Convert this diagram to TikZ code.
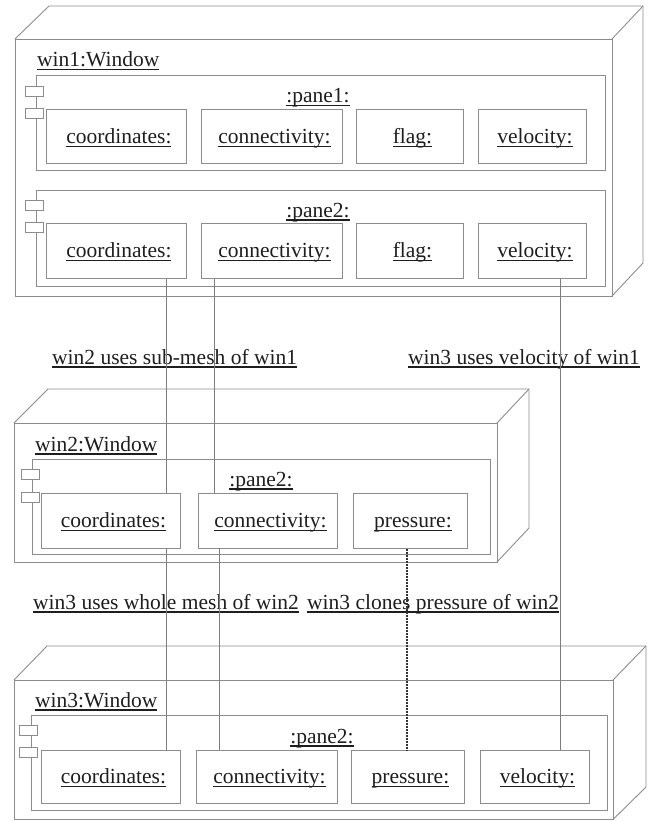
\documentclass[tikz,border=0pt]{standalone}
\usepackage{fontspec}
\setmainfont{Liberation Serif}
\definecolor{boxc}{RGB}{140,140,140}
\definecolor{linec}{RGB}{125,125,125}
\definecolor{txtc}{RGB}{30,30,30}
\newcommand\ulx[1]{\setbox0\hbox{#1}\rlap{\rule[-3.5pt]{\wd0}{1.1pt}}\box0}
\newcommand\fsz{\fontsize{21.5}{24}\selectfont}
\newcommand\plbl[1]{\hspace*{5pt}\ulx{#1}}
\begin{document}
\begin{tikzpicture}[x=1pt,y=-1pt,
  frame/.style={draw=boxc,line width=0.9pt},
  pane/.style={draw=boxc,line width=0.9pt,rectangle,inner sep=0pt,anchor=north west},
  part/.style={draw=boxc,line width=0.9pt,rectangle,inner sep=0pt,anchor=north west,text=txtc,font=\fsz,text height=14pt,text depth=0pt},
  icon/.style={draw=boxc,line width=0.9pt,fill=white,rectangle,inner sep=0pt,minimum width=18pt,minimum height=10pt},
  lbl/.style={text=txtc,font=\fsz,inner sep=0pt},
  link/.style={draw=linec,line width=0.7pt},
  clone/.style={draw=black!80,line width=1.1pt,dash pattern=on 2pt off 1pt},
]
\useasboundingbox (0,0) rectangle (651,821);

% ---------- win1 ----------
\draw[frame] (15,39) rectangle (612,296);
\draw[frame] (15,39) -- (49,6) -- (643,6) -- (643,263) -- (612,296);
\draw[frame] (612,39) -- (643,6);
\node[lbl,anchor=base west] (t1) at (37,67) {\ulx{win1:Window}};

\node[pane,minimum width=569pt,minimum height=95pt] (w1p1) at (36,75) {};
\node[lbl,anchor=base] (w1p1l) at (318,103) {\ulx{:pane1:}};
\node[icon] (w1p1i1) at (34,91) {};
\node[icon] (w1p1i2) at (34,113) {};
\node[part,minimum width=140pt,minimum height=54pt] (w1a1) at (46,109) {\plbl{coordinates:}};
\node[part,minimum width=141pt,minimum height=54pt] (w1a2) at (201,109) {\plbl{connectivity:}};
\node[part,minimum width=107pt,minimum height=54pt] (w1a3) at (356,109) {\plbl{flag:}};
\node[part,minimum width=108pt,minimum height=54pt] (w1a4) at (478,109) {\plbl{velocity:}};

\node[pane,minimum width=569pt,minimum height=96pt] (w1p2) at (36,190) {};
\node[lbl,anchor=base] (w1p2l) at (318,217) {\ulx{:pane2:}};
\node[icon] (w1p2i1) at (34,205) {};
\node[icon] (w1p2i2) at (34,227) {};
\node[part,minimum width=140pt,minimum height=55pt] (w1b1) at (46,223) {\plbl{coordinates:}};
\node[part,minimum width=141pt,minimum height=55pt] (w1b2) at (201,223) {\plbl{connectivity:}};
\node[part,minimum width=107pt,minimum height=55pt] (w1b3) at (356,223) {\plbl{flag:}};
\node[part,minimum width=108pt,minimum height=55pt] (w1b4) at (478,223) {\plbl{velocity:}};

\node[lbl,anchor=base west] (n1) at (52,364) {\ulx{win2 uses sub-mesh of win1}};
\node[lbl,anchor=base west] (n2) at (408,364) {\ulx{win3 uses velocity of win1}};

% ---------- win2 ----------
\draw[frame] (14,423) rectangle (497,562);
\draw[frame] (14,423) -- (48,389) -- (529,389) -- (529,528) -- (497,562);
\draw[frame] (497,423) -- (529,389);
\node[lbl,anchor=base west] (t2) at (35,451) {\ulx{win2:Window}};

\node[pane,minimum width=458pt,minimum height=95pt] (w2p) at (32,459) {};
\node[lbl,anchor=base] (w2pl) at (261,486) {\ulx{:pane2:}};
\node[icon] (w2i1) at (30.5,474.5) {};
\node[icon] (w2i2) at (30.5,497) {};
\node[part,minimum width=139pt,minimum height=55pt] (w2a1) at (41,493) {\plbl{coordinates:}};
\node[part,minimum width=139pt,minimum height=55pt] (w2a2) at (198,493) {\plbl{connectivity:}};
\node[part,minimum width=114pt,minimum height=55pt] (w2a3) at (353,493) {\plbl{pressure:}};

\node[lbl,anchor=base west] (n3) at (33,609) {\ulx{win3 uses whole mesh of win2}};
\node[lbl,anchor=base west] (n4) at (307,609) {\ulx{win3 clones pressure of win2}};

% ---------- win3 ----------
\draw[frame] (14,680) rectangle (613,819.5);
\draw[frame] (14,680) -- (47,646) -- (646,646) -- (646,787) -- (613,819.5);
\draw[frame] (613,680) -- (646,646);
\node[lbl,anchor=base west] (t3) at (35,707) {\ulx{win3:Window}};

\node[pane,minimum width=576pt,minimum height=95pt] (w3p) at (31,715) {};
\node[lbl,anchor=base] (w3pl) at (322,743) {\ulx{:pane2:}};
\node[icon] (w3i1) at (28.5,730) {};
\node[icon] (w3i2) at (28.5,752) {};
\node[part,minimum width=139pt,minimum height=53pt] (w3a1) at (41,750) {\plbl{coordinates:}};
\node[part,minimum width=141pt,minimum height=53pt] (w3a2) at (196,750) {\plbl{connectivity:}};
\node[part,minimum width=113pt,minimum height=53pt] (w3a3) at (351,750) {\plbl{pressure:}};
\node[part,minimum width=109pt,minimum height=53pt] (w3a4) at (480,750) {\plbl{velocity:}};

% ---------- links ----------
\coordinate (c1) at ([xshift=120pt]w1b1.south west);
\coordinate (c2) at ([xshift=125pt]w2a1.south west);
\coordinate (c3) at ([xshift=13pt]w1b2.south west);
\coordinate (c4) at ([xshift=21pt]w2a2.south west);
\coordinate (c5) at ([xshift=82pt]w1b4.south west);
\coordinate (c6) at ([xshift=54pt]w2a3.south west);
\draw[link] (c1) -- (c1 |- w2a1.north);
\draw[link] (c2) -- (c2 |- w3a1.north);
\draw[link] (c3) -- (c3 |- w2a2.north);
\draw[link] (c4) -- (c4 |- w3a2.north);
\draw[link] (c5) -- (c5 |- w3a4.north);
\draw[clone] (c6) -- (c6 |- w3a3.north);
\end{tikzpicture}
\end{document}
